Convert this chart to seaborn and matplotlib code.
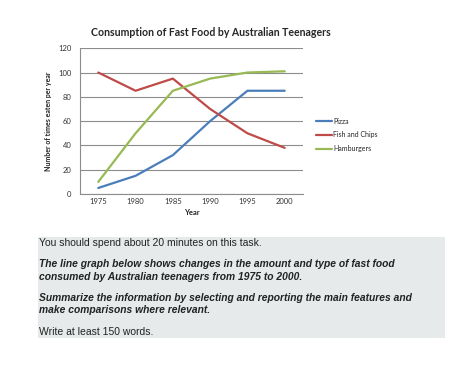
import pandas as pd
import matplotlib.pyplot as plt
import seaborn as sns
from matplotlib.patches import Rectangle

# Datos
years = [1975, 1980, 1985, 1990, 1995, 2000]
pizza = [5, 15, 32, 60, 85, 85]
fish_chips = [100, 85, 95, 70, 50, 38]
hamburgers = [10, 50, 85, 95, 100, 101]
series_names = ["Pizza", "Fish and Chips", "Hamburgers"]
colors = ["#4A7EBB", "#BE4B48", "#98B954"]
y_ticks = [0, 20, 40, 60, 80, 100, 120]

sns.set_theme(style="white")
plt.rcParams['font.family'] = ['Lato', 'DejaVu Sans']

df = pd.DataFrame({"Year": years, "Pizza": pizza,
                   "Fish and Chips": fish_chips, "Hamburgers": hamburgers})
long_df = df.melt(id_vars="Year", var_name="Food", value_name="Times")

fig = plt.figure(figsize=(4.74, 3.92), dpi=100)
ax = fig.add_axes([0.168, 0.505, 0.472, 0.372])

sns.lineplot(data=long_df, x="Year", y="Times", hue="Food",
             hue_order=series_names, palette=colors, linewidth=1.6, ax=ax)

ax.set_xlim(1972.5, 2002.5)
ax.set_ylim(0, 120)
ax.set_xticks(years)
ax.set_xticks([y - 2.5 for y in years] + [2002.5], minor=True)
ax.set_yticks(y_ticks)
ax.yaxis.grid(True, color="#8c8c8c", linewidth=0.8)
ax.tick_params(axis="both", which="major", labelsize=5.5, colors="#333333", pad=3)
ax.tick_params(axis="x", which="major", length=0)
ax.tick_params(axis="x", which="minor", length=3, color="#8c8c8c", direction="out")
ax.tick_params(axis="y", which="major", length=3, color="#8c8c8c", direction="out")
for s in ["top", "right"]:
    ax.spines[s].set_visible(False)
for s in ["left", "bottom"]:
    ax.spines[s].set_color("#8c8c8c")
    ax.spines[s].set_linewidth(0.8)

ax.set_xlabel("Year", fontsize=5.5, fontweight="bold", labelpad=3)
ax.set_ylabel("Number of times eaten per year", fontsize=5, fontweight="bold", labelpad=4)
ax.set_title("Consumption of Fast Food by Australian Teenagers",
             fontsize=7.6, fontweight="bold", pad=9, x=0.585)

leg = ax.legend(loc="upper left", bbox_to_anchor=(1.03, 0.565), frameon=False,
                fontsize=5, handlelength=2.2, handletextpad=0.2, labelspacing=0.95)

# Cuadro de texto inferior
fig.patches.append(Rectangle((0.080, 0.138), 0.859, 0.257, transform=fig.transFigure,
                             facecolor="#E6EAEA", edgecolor="none", zorder=0))
txt = dict(family=['Liberation Sans', 'DejaVu Sans'], color="#222222", va="center")
fig.text(0.083, 1 - 243 / 392, "You should spend about 20 minutes on this task.",
         fontsize=7.5, **txt)
fig.text(0.083, 1 - 264 / 392, "The line graph below shows changes in the amount and type of fast food",
         fontsize=7.4, fontweight="bold", style="italic", **txt)
fig.text(0.083, 1 - 277 / 392, "consumed by Australian teenagers from 1975 to 2000.",
         fontsize=7.4, fontweight="bold", style="italic", **txt)
fig.text(0.083, 1 - 298 / 392, "Summarize the information by selecting and reporting the main features and",
         fontsize=7.4, fontweight="bold", style="italic", **txt)
fig.text(0.083, 1 - 310 / 392, "make comparisons where relevant.",
         fontsize=7.4, fontweight="bold", style="italic", **txt)
fig.text(0.083, 1 - 332 / 392, "Write at least 150 words.", fontsize=7.5, **txt)

fig.savefig("out.png", dpi=100)
